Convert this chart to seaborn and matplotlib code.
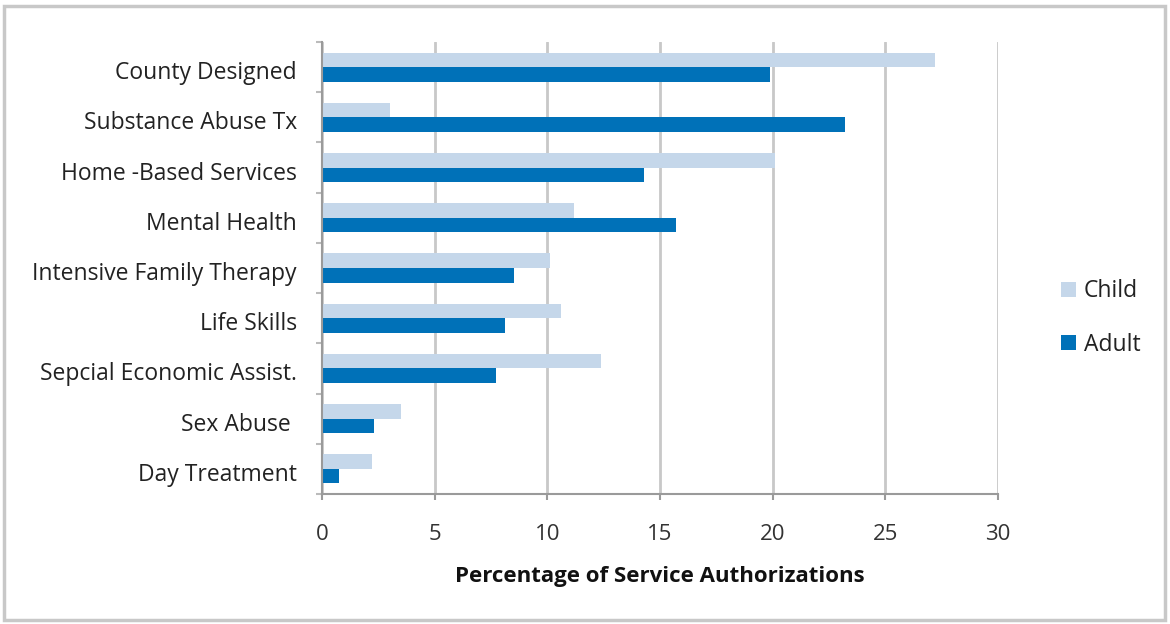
import matplotlib
matplotlib.use("Agg")
import matplotlib.pyplot as plt
import matplotlib.transforms as mtrans
import seaborn as sns
import pandas as pd
import numpy as np
from matplotlib.patches import Rectangle, Patch
from matplotlib.ticker import FixedLocator

categories = ["County Designed", "Substance Abuse Tx", "Home -Based Services", "Mental Health",
              "Intensive Family Therapy", "Life Skills", "Sepcial Economic Assist.", "Sex Abuse ",
              "Day Treatment"]
child = [27.2, 3.0, 20.1, 11.2, 10.1, 10.6, 12.4, 3.5, 2.2]
adult = [19.9, 23.2, 14.3, 15.7, 8.5, 8.1, 7.7, 2.3, 0.75]
series = ["Child", "Adult"]
x_ticks = [0, 5, 10, 15, 20, 25, 30]

df = pd.DataFrame({
    "Category": categories * 2,
    "Series": ["Child"] * len(categories) + ["Adult"] * len(categories),
    "Value": child + adult,
})

sns.set_theme(style="white")
plt.rcParams["font.family"] = ["Open Sans", "DejaVu Sans"]

colors = {"Child": "#C5D7EA", "Adult": "#0071B8"}

fig = plt.figure(figsize=(11.7, 6.24), dpi=100)
ax = fig.add_axes([322/1170, 1 - 494/624, 676/1170, 452/624])

sns.barplot(data=df, y="Category", x="Value", hue="Series", hue_order=series,
            order=categories, palette=colors, width=0.58, gap=0, orient="h",
            ax=ax, legend=False, saturation=1, edgecolor="none", linewidth=0)

ax.set_xlim(0, 30)
ax.set_ylim(len(categories) - 0.5, -0.5)
ax.set_xticks(x_ticks)
ax.set_xticklabels([str(t) for t in x_ticks], fontsize=16, color="#333333")
ax.xaxis.grid(True, color="#C8C8C8", linewidth=2.0)
ax.yaxis.grid(False)
ax.set_axisbelow(True)

for s in ["top", "right"]:
    ax.spines[s].set_visible(False)
for s in ["left", "bottom"]:
    ax.spines[s].set_color("#9A9A9A")
    ax.spines[s].set_linewidth(1.5)

ax.tick_params(axis="x", which="major", direction="out", length=4.5, width=1.5,
               color="#9A9A9A", pad=17, bottom=True)
ax.tick_params(axis="y", which="major", length=0, pad=18, labelsize=16.5, labelcolor="#222222")
ax.yaxis.set_minor_locator(FixedLocator(np.arange(-0.5, len(categories), 1.0)))
ax.tick_params(axis="y", which="minor", direction="out", length=4, width=1.5,
               color="#BBBBBB", left=True)

shift = mtrans.ScaledTranslation(0, -3/100, fig.dpi_scale_trans)
for lbl in ax.get_yticklabels():
    lbl.set_transform(lbl.get_transform() + shift)

ax.set_ylabel("")
ax.set_xlabel("Percentage of Service Authorizations", fontsize=16, fontweight="bold",
              color="#111111", labelpad=15)

handles = [Patch(facecolor=colors[s], edgecolor="none") for s in series]
fig.legend(handles, series, loc="center left", bbox_to_anchor=(1040/1170, 1 - 318/624),
           frameon=False, fontsize=16.5, handlelength=0.65, handleheight=0.65,
           handletextpad=0.35, labelspacing=1.27, labelcolor="#222222")

fig.patches.append(Rectangle((4/1170, 4/624), 1 - 9/1170, 1 - 10/624, transform=fig.transFigure,
                             fill=False, edgecolor="#C8C8C8", linewidth=2.5, zorder=0))

fig.savefig("out.png", dpi=100, facecolor="white")
